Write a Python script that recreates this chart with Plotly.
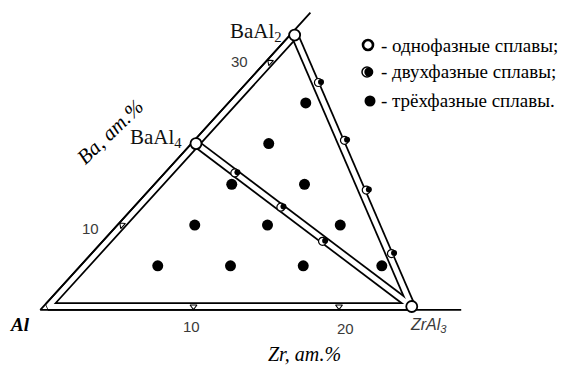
import math
import plotly.graph_objects as go

# ---------------- data: compositions in at.% (Zr, Ba) ----------------
compound_labels = ["BaAl<sub>2</sub>", "BaAl<sub>4</sub>", "ZrAl<sub>3</sub>"]
compound_zr = [0.0, 0.0, 25.0]
compound_ba = [33.33, 20.0, 0.0]

# two-phase alloys lying on the BaAl2-ZrAl3 and BaAl4-ZrAl3 tie lines
two_phase_zr = [4.6, 10.0, 14.6, 20.3, 4.5, 9.8, 14.8]
two_phase_ba = [27.5, 20.4, 14.3, 6.5, 16.4, 12.2, 8.0]

# three-phase alloys
three_phase_zr = [5, 10, 15, 20.4, 5, 10, 15, 5, 10, 5, 5]
three_phase_ba = [5, 5, 5, 5, 10, 10, 10, 15, 15, 20, 25]

zr_ticks = [10, 20]
ba_ticks = [10, 30]
zr_axis_max = 28.4
ba_axis_max = 35.8

legend_labels = ["- однофазные сплавы;", "- двухфазные сплавы;", "- трёхфазные сплавы."]

# ---------------- geometry of the skewed composition frame ----------------
W, H = 567, 365
OX, OY = 48.0, 306.5          # Al corner on the page (px)
SX = 14.55                    # px per at.% Zr
SY = 8.145                    # px per at.% Ba (vertical)
K = 7.4 / SX                  # horizontal lean of the Ba axis

def comp(zr, ba):
    return zr + K * ba, ba

def page(xp, yp):
    return (xp - OX) / SX, (OY - yp) / SY

def nudge(pt, dx, dy):
    return pt[0] + dx / SX, pt[1] - dy / SY

X_RANGE = [(0 - OX) / SX, (W - OX) / SX]
Y_RANGE = [(OY - H) / SY, OY / SY]

fig = go.Figure()

def line(pts, width, color):
    fig.add_trace(go.Scatter(x=[p[0] for p in pts], y=[p[1] for p in pts], mode="lines",
                             line=dict(color=color, width=width), hoverinfo="skip",
                             showlegend=False))

def markers(pts, **kw):
    fig.add_trace(go.Scatter(x=[p[0] for p in pts], y=[p[1] for p in pts], mode="markers",
                             marker=kw, hoverinfo="skip", showlegend=False))

al = comp(0, 0)
baal2 = comp(compound_zr[0], compound_ba[0])
baal4 = comp(compound_zr[1], compound_ba[1])
zral3 = comp(compound_zr[2], compound_ba[2])

# double-line "tubes": wide black stroke with a white core
tubes = [[baal2, al, zral3], [baal2, zral3], [baal4, zral3]]
for t in tubes:
    line(t, 8.5, "black")
for t in tubes:
    line(t, 5.0, "white")

# outer single axis lines (outer edge of the boundary tubes, extended)
h = 3.4
dxp, dyp = 7.4, -SY
n = math.hypot(dxp, dyp)
nx, ny = dyp / n, -dxp / n   # outward normal of the Al-Ba side
t0 = -h / SY + h * ny / SY
corner = (K * t0 + h * nx / SX, -h / SY)
top = nudge(comp(0, ba_axis_max), h * nx, h * ny)
right = nudge(comp(zr_axis_max, 0), 0, h)
line([top, corner, right], 1.8, "black")

# tick marks on the sides
markers([comp(z, 0) for z in zr_ticks], symbol="triangle-down-open", size=6,
        color="black", line=dict(width=1.1))
markers([comp(0, b) for b in ba_ticks], symbol="triangle-down-open", size=6,
        color="black", angle=132, line=dict(width=1.1))

# three-phase alloys
markers([comp(z, b) for z, b in zip(three_phase_zr, three_phase_ba)],
        symbol="circle", size=11, color="black", line=dict(width=0))

# two-phase alloys: half-open circles
tp = [comp(z, b) for z, b in zip(two_phase_zr, two_phase_ba)]
markers(tp, symbol="circle", size=8, color="white", line=dict(color="black", width=1.2))
markers([nudge(p, 2.6, -0.6) for p in tp], symbol="circle", size=6, color="black",
        line=dict(width=0))

# single-phase compounds
markers([baal2, baal4, zral3], symbol="circle", size=11, color="white",
        line=dict(color="black", width=1.8))

# legend symbols
lg = [page(368, 45), page(367, 72), page(370, 101)]
markers([lg[0]], symbol="circle", size=10, color="white", line=dict(color="black", width=2.6))
markers([lg[1]], symbol="circle", size=10, color="white", line=dict(color="black", width=1.5))
markers([nudge(lg[1], 1.8, 0)], symbol="circle", size=9, color="black", line=dict(width=0))
markers([lg[2]], symbol="circle", size=11, color="black", line=dict(width=0))

ann = []
def text(s, xp, yp, size, family, color="black", xanchor="center", angle=0):
    ann.append(dict(text=s, x=xp / W, y=1 - yp / H, xref="paper", yref="paper",
                    xanchor=xanchor, yanchor="middle", showarrow=False, textangle=angle,
                    font=dict(size=size, family=family, color=color)))

serif = "Liberation Serif"
for lab, yp in zip(legend_labels, [45, 72, 101]):
    text(lab, 379, yp, 19, serif, xanchor="left")

text(compound_labels[0], 284, 32, 21, serif, color="#111111", xanchor="right")
text(compound_labels[1], 184, 138, 21, serif, color="#111111", xanchor="right")
text("<i>" + compound_labels[2] + "</i>", 428, 325, 16, "Liberation Sans", color="#3a3a3a")

text("<i>Ba, ат.%</i>", 110, 132, 21, serif, angle=-44)
text("<i>Zr, ат.%</i>", 304, 354, 20, serif)
text("<b><i>Al</i></b>", 20, 324, 19, serif)

for z, xp, yp in zip(zr_ticks, [191, 345], [326, 328]):
    text(str(z), xp, yp, 15, "Liberation Sans", color="#3a3a3a")
for b, xp, yp in zip(ba_ticks, [90, 239], [228, 62]):
    text(str(b), xp, yp, 15, "Liberation Sans", color="#3a3a3a")

fig.update_layout(
    width=W, height=H, margin=dict(l=0, r=0, t=0, b=0),
    paper_bgcolor="white", plot_bgcolor="white",
    xaxis=dict(range=X_RANGE, visible=False, fixedrange=True),
    yaxis=dict(range=Y_RANGE, visible=False, fixedrange=True),
    annotations=ann, showlegend=False,
)

fig.write_html("out.html")
